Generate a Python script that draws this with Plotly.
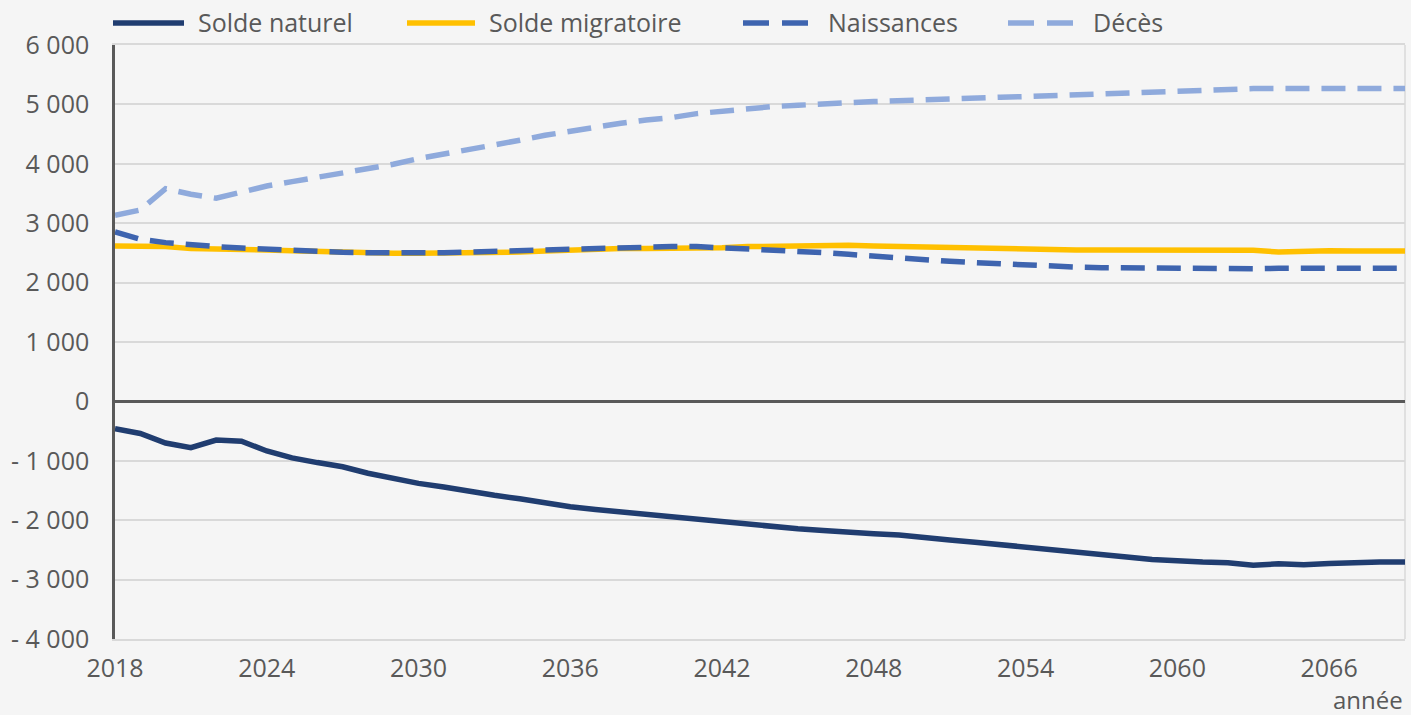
import plotly.graph_objects as go

# Years covered by the projection
years = list(range(2018, 2070))

solde_naturel = [
    -460, -540, -700, -780, -650, -670, -835, -950, -1030, -1100,
    -1210, -1300, -1380, -1440, -1520, -1580, -1640, -1710, -1775, -1820,
    -1860, -1915, -1940, -2000, -2040, -2080, -2115, -2145, -2175, -2210,
    -2230, -2250, -2300, -2335, -2370, -2415, -2455, -2490, -2535, -2590,
    -2620, -2660, -2690, -2705, -2715, -2760, -2735, -2750, -2730, -2710,
    -2705, -2705,
]
solde_migratoire = [
    2617, 2617, 2606, 2572, 2572, 2560, 2549, 2538, 2521, 2504,
    2493, 2493, 2493, 2493, 2493, 2504, 2515, 2532, 2549, 2560,
    2572, 2572, 2572, 2575, 2588, 2606, 2617, 2628, 2628, 2628,
    2617, 2606, 2600, 2588, 2588, 2577, 2560, 2549, 2549, 2549,
    2549, 2549, 2543, 2538, 2532, 2543, 2515, 2538, 2538, 2532,
    2532, 2532,
]
naissances = [
    2852, 2729, 2673, 2628, 2606, 2583, 2560, 2543, 2527, 2510,
    2504, 2500, 2500, 2504, 2515, 2527, 2543, 2560, 2577, 2588,
    2600, 2606, 2606, 2606, 2588, 2572, 2549, 2527, 2504, 2476,
    2442, 2415, 2386, 2358, 2336, 2313, 2296, 2279, 2262, 2251,
    2245, 2240, 2234, 2234, 2234, 2234, 2240, 2240, 2240, 2240,
    2240, 2240,
]
deces = [
    3133, 3222, 3580, 3487, 3420, 3530, 3627, 3700, 3768, 3840,
    3913, 3992, 4087, 4160, 4245, 4323, 4396, 4480, 4553, 4620,
    4683, 4738, 4778, 4845, 4890, 4930, 4963, 4985, 5014, 5030,
    5048, 5058, 5070, 5087, 5104, 5120, 5132, 5149, 5160, 5177,
    5193, 5210, 5227, 5244, 5255, 5266, 5266, 5266, 5272, 5272,
    5266, 5266,
]

series_names = ["Solde naturel", "Solde migratoire", "Naissances", "Décès"]
series_colors = ["#203d70", "#ffc000", "#3e64af", "#8faadc"]
series_dash = ["solid", "solid", "24px,12px", "24px,12px"]

x_ticks = list(range(2018, 2067, 6))
y_ticks = [-4000, -3000, -2000, -1000, 0, 1000, 2000, 3000, 4000, 5000, 6000]
y_ticktext = ["- 4 000", "- 3 000", "- 2 000", "- 1 000", "0",
              "1 000", "2 000", "3 000", "4 000", "5 000", "6 000"]

TEXT = "#595959"
FONT = "Open Sans"
W, H = 1411, 715
L, R, T, B = 115, 6, 45, 76
PW, PH = W - L - R, H - T - B


def px_x(px):
    return (px - L) / PW


def px_y(py):
    return (H - B - py) / PH


fig = go.Figure()
for name, vals, color, dash in zip(series_names,
                                   [solde_naturel, solde_migratoire, naissances, deces],
                                   series_colors, series_dash):
    fig.add_trace(go.Scatter(x=years, y=vals, name=name, mode="lines",
                             line=dict(color=color, width=5.5, dash=dash),
                             showlegend=False))

# hand-made legend so the key lines are as long as in the original
legend_pos = [(113, 184, 196), (407, 475, 487), (743, 810, 826), (1008, 1076, 1091)]
shapes = []
annotations = []
for (x0, x1, xt), name, color, dash in zip(legend_pos, series_names, series_colors, series_dash):
    shapes.append(dict(type="line", xref="paper", yref="paper",
                       x0=px_x(x0), x1=px_x(x1), y0=px_y(23), y1=px_y(23),
                       line=dict(color=color, width=5.5,
                                 dash="26px,13px" if dash != "solid" else "solid")))
    annotations.append(dict(text=name, xref="paper", yref="paper",
                            x=px_x(xt), y=px_y(22), xanchor="left", yanchor="middle",
                            showarrow=False, font=dict(family=FONT, size=25, color=TEXT)))

# right edge of the frame
shapes.append(dict(type="line", xref="paper", yref="paper", x0=1, x1=1, y0=0, y1=1,
                   line=dict(color="#d9d9d9", width=1.5), layer="below"))

annotations.append(dict(text="année", xref="paper", yref="paper", x=1, y=px_y(699),
                        xanchor="right", yanchor="middle", showarrow=False,
                        font=dict(family=FONT, size=24, color=TEXT)))

fig.update_layout(
    width=W, height=H,
    margin=dict(l=L, r=R, t=T, b=B),
    paper_bgcolor="#f5f5f5",
    plot_bgcolor="#f5f5f5",
    font=dict(family=FONT, size=25, color=TEXT),
    shapes=shapes,
    annotations=annotations,
    xaxis=dict(range=[2018, 2069], tickvals=x_ticks, showgrid=False,
               showline=True, linecolor="#d9d9d9", linewidth=1.5, mirror=True,
               ticks="", ticklabelstandoff=6, zeroline=False),
    yaxis=dict(range=[-4000, 6000], tickvals=y_ticks, ticktext=y_ticktext,
               showgrid=True, gridcolor="#d9d9d9", gridwidth=1.5,
               zeroline=True, zerolinecolor="#595959", zerolinewidth=2.5,
               showline=True, linecolor="#595959", linewidth=2.5,
               ticks="", ticklabelstandoff=18),
)

# the page's default body margin would push the figure off the window
fig.write_html("out.html", config={"displayModeBar": False},
               post_script="document.body.style.margin='0';"
                           "document.body.style.background='#f5f5f5';")
